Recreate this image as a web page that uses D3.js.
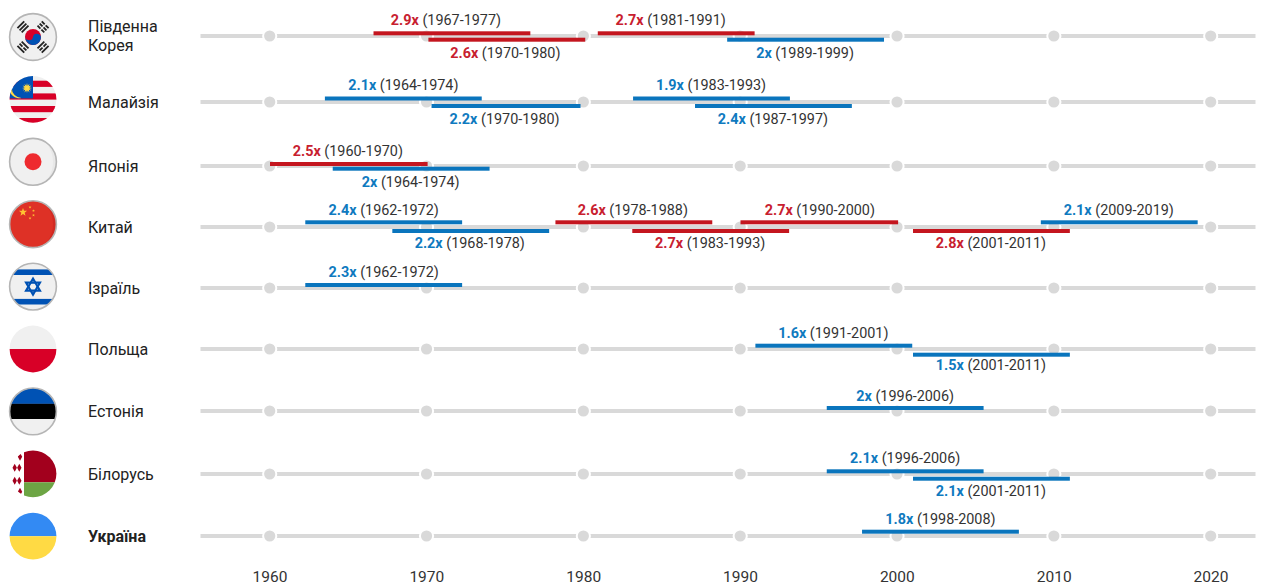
<!DOCTYPE html>
<html><head><meta charset="utf-8">
<script src="https://cdn.jsdelivr.net/npm/d3@7"></script>
<style>html,body{margin:0;padding:0;background:#fff}svg{display:block}text{font-family:Roboto,sans-serif}</style>
</head><body><div id="c"></div>
<script>
// ---- data ----
const countries = ["Південна Корея","Малайзія","Японія","Китай","Ізраїль","Польща","Естонія","Білорусь","Україна"];
const years = [1960,1970,1980,1990,2000,2010,2020];
const barCountry = [0,0,0,0, 1,1,1,1, 2,2, 3,3,3,3,3,3,3, 4, 5,5, 6, 7,7, 8];
const barLevel   = [0,1,0,1, 0,1,0,1, 0,1, 0,1,0,1,0,1,0, 0, 0,1, 0, 0,1, 0];
const barStart = [1966.6,1970.1,1980.9,1989.15, 1963.5,1970.3,1983.15,1987.1, 1960,1964, 1962.25,1967.8,1978.2,1983.1,1990,2001,2009.15, 1962.25, 1990.95,2001, 1995.5, 1995.5,2001, 1997.75];
const barEnd   = [1976.6,1980.1,1990.9,1999.15, 1973.5,1979.8,1993.15,1997.1, 1970.05,1974, 1972.25,1977.8,1988.2,1993.1,2000.05,2011,2019.15, 1972.25, 2000.95,2011, 2005.5, 2005.5,2011, 2007.75];
const barMult  = ["2.9x","2.6x","2.7x","2x", "2.1x","2.2x","1.9x","2.4x", "2.5x","2x", "2.4x","2.2x","2.6x","2.7x","2.7x","2.8x","2.1x", "2.3x", "1.6x","1.5x", "2x", "2.1x","2.1x", "1.8x"];
const barPeriod= ["1967-1977","1970-1980","1981-1991","1989-1999", "1964-1974","1970-1980","1983-1993","1987-1997", "1960-1970","1964-1974", "1962-1972","1968-1978","1978-1988","1983-1993","1990-2000","2001-2011","2009-2019", "1962-1972", "1991-2001","2001-2011", "1996-2006", "1996-2006","2001-2011", "1998-2008"];
const barGroup = ["r","r","r","b", "b","b","b","b", "r","b", "b","b","r","r","r","r","b", "b", "b","b", "b", "b","b", "b"];

// ---- layout ----
const W=1266,H=583;
const rowY=[36,102,166,227,288,349,411,474,536];
const barY=[[33.3,39.7],[98.5,106],[164,168.7],[222.3,231],[285,285],[345.7,354.7],[408,408],[471.3,478.7],[531.7,531.7]];
const labelY=[[25,58.3],[90.3,124.3],[155.8,187.3],[215,247.5],[277,277],[337.7,370.3],[400.7,400.7],[463.3,495.7],[524,524]];
const flagY=d3.range(9).map(i=>37+i*62.4);
const labelShift=[-6,-1.5,-5.5,-.5, 0,-1.5,-.5,-.5, -1,-.5, 0,-1,-1,-.5,.5,-.5,-.5, 0, -.5,-.5, 0, 0,-.5, 0];
const colors={r:"#c4161f",b:"#0a75bd"},txtColors={r:"#c8202f",b:"#0f7abf"};

const x=d3.scaleLinear().domain([1960,2020]).range([270,1211]);
const svg=d3.select("#c").append("svg").attr("width",W).attr("height",H).attr("viewBox",[0,0,W,H]);

// axis labels
svg.append("g").attr("transform","translate(0,582)")
  .call(d3.axisBottom(x).tickValues(years).tickFormat(d3.format("d")).tickSize(0).tickPadding(0))
  .call(g=>g.select(".domain").remove())
  .call(g=>g.selectAll("text").attr("dy",null).attr("y",0).attr("font-size",15.5).attr("font-family","Roboto").attr("fill","#333").attr("dx",-.5));

// rows
const row=svg.append("g").selectAll("g").data(countries).join("g").attr("transform",(d,i)=>`translate(0,${rowY[i]})`);
row.append("rect").attr("x",200.5).attr("width",1055).attr("y",-2).attr("height",4).attr("fill","#d9d9d9");
row.selectAll("circle").data(years).join("circle").attr("cx",d=>x(d)-.3).attr("r",5.6)
  .attr("fill","#d9d9d9").attr("stroke","#fff").attr("stroke-width",4).attr("paint-order","stroke");

// bars and labels
const idx=d3.range(barStart.length);
svg.append("g").selectAll("rect").data(idx).join("rect")
  .attr("x",i=>x(barStart[i])).attr("width",i=>x(barEnd[i])-x(barStart[i]))
  .attr("y",i=>barY[barCountry[i]][barLevel[i]]-2).attr("height",4)
  .attr("fill",i=>colors[barGroup[i]]);
const lab=svg.append("g").selectAll("text").data(idx).join("text")
  .attr("x",i=>(x(barStart[i])+x(barEnd[i]))/2+labelShift[i])
  .attr("y",i=>labelY[barCountry[i]][barLevel[i]])
  .attr("text-anchor","middle").attr("font-size",14.4).attr("fill","#333");
lab.append("tspan").attr("font-weight",700).attr("fill",i=>txtColors[barGroup[i]]).text(i=>barMult[i]);
lab.append("tspan").text(i=>` (${barPeriod[i]})`);

// country names
const names=svg.append("g").selectAll("text").data(countries).join("text").attr("x",88).attr("font-size",16).attr("fill","#222")
  .attr("font-weight",(d,i)=>i===8?700:400);
names.each(function(d,i){
  const t=d3.select(this), base=rowY[i]+5.5;
  if(i===0){t.append("tspan").attr("x",88).attr("y",31.5).text("Південна");t.append("tspan").attr("x",88).attr("y",50.5).text("Корея");}
  else t.attr("y",base).text(d);
});

// flags
const defs=svg.append("defs");
const flags=svg.append("g");
function flag(i,ring,draw,r=23.4){
  const id="f"+i;
  defs.append("clipPath").attr("id",id).append("circle").attr("r",r);
  const g=flags.append("g").attr("transform",`translate(33,${flagY[i]})`);
  const c=g.append("g").attr("clip-path",`url(#${id})`);
  draw(c);
  if(ring) g.append("circle").attr("r",r).attr("fill","none").attr("stroke","#b5b5b5").attr("stroke-width",1.6);
}
const R=(g,x,y,w,h,f)=>g.append("rect").attr("x",x).attr("y",y).attr("width",w).attr("height",h).attr("fill",f);
const star=(cx,cy,r,n=5,ir=.4)=>{const p=[];for(let k=0;k<n*2;k++){const a=-Math.PI/2+k*Math.PI/n,q=k%2?r*ir:r;p.push([cx+q*Math.cos(a),cy+q*Math.sin(a)]);}return "M"+p.join("L")+"Z";};
const shade=(g,f)=>g.append("path").attr("d","M8,-24 A30,30 0 0 1 8,24 L30,24 L30,-24Z").attr("fill",f);
// Korea
flag(0,true,g=>{
  R(g,-25,-25,50,50,"#f0f0f0");
  g.append("circle").attr("r",8).attr("fill","#d80027");
  g.append("path").attr("d","M-8,0 A8,8 0 0 0 8,0 A4,4 0 0 0 0,0 A4,4 0 0 1 -8,0Z").attr("transform","rotate(12)").attr("fill","#0052b4");
  [[-45,0],[45,2],[135,1],[-135,1]].forEach(([a,k])=>{
    const t=g.append("g").attr("transform",`rotate(${a}) translate(0,-14.2)`);
    [-3,0,3].forEach((dy,j)=>{
      const cut=k===2?true:(k===1?j===1:false);
      if(cut){R(t,-4.8,dy-.9,4.1,1.8,"#222");R(t,.7,dy-.9,4.1,1.8,"#222");}
      else R(t,-4.8,dy-.9,9.6,1.8,"#222");
    });
  });
});
// Malaysia
flag(1,false,g=>{
  R(g,-25,-25,50,50,"#f0f0f0");
  [-18.7,-6,6.6,18.6].forEach(y=>R(g,-25,y,50,6.2,"#d80027"));
  R(g,-25,-25,25,24,"#0052b4");
  g.append("path").attr("fill","#ffda44")
   .attr("d","M-11.5,-21 A10,10 0 1 0 -11.5,-1.5 A8.2,8.2 0 1 1 -11.5,-21Z");
  g.append("path").attr("d",star(-6,-11.3,5,12,.5)).attr("fill","#ffda44");
});
// Japan
flag(2,true,g=>{
  R(g,-25,-25,50,50,"#f0f0f0");shade(g,"#e8e8e8");
  g.append("circle").attr("r",8.5).attr("fill","#ee2a2f");
});
// China
flag(3,true,g=>{
  R(g,-25,-25,50,50,"#de3126");shade(g,"#d12a22");
  g.append("path").attr("d",star(-10,-12,4.3)).attr("fill","#ffc533");
  [[-3,-17],[.5,-13.5],[.5,-9],[-3,-6]].forEach(([a,b])=>g.append("path").attr("d",star(a,b,1.5)).attr("fill","#ffc533"));
});
// Israel
flag(4,true,g=>{
  R(g,-25,-25,50,50,"#f0f0f0");
  R(g,-25,-17.2,50,5.6,"#0052b4");R(g,-25,12.3,50,5.6,"#0052b4");
  const s=g.append("g").attr("fill","none").attr("stroke","#0052b4").attr("stroke-width",2.1);
  s.append("path").attr("d","M0,-8 L7,4 L-7,4Z");
  s.append("path").attr("d","M0,8 L7,-4 L-7,-4Z");
});
// Poland
flag(5,false,g=>{R(g,-25,-25,50,25,"#f0f0f0");R(g,-25,0,50,25,"#d80027");});
// Estonia
flag(6,true,g=>{R(g,-25,-25,50,17.5,"#0052b4");R(g,-25,-7.6,50,15.2,"#000");R(g,-25,7.6,50,18,"#f0f0f0");});
// Belarus
flag(7,false,g=>{
  R(g,-25,-25,50,50,"#fff");
  R(g,-9,-25,34,33.5,"#a2001d");R(g,-9,8.5,34,17,"#6da544");
  [[-13,-17],[-18.3,-6],[-13.7,-6],[-18.3,7],[-13.7,7],[-13,18]].forEach(([a,b])=>
    g.append("path").attr("d",`M${a},${b-4} L${a+2.2},${b} L${a},${b+4} L${a-2.2},${b}Z`).attr("fill","#a2001d"));
});
// Ukraine
flag(8,false,g=>{R(g,-25,-25,50,25,"#338af3");R(g,-25,0,50,25,"#ffda44");});
</script></body></html>
